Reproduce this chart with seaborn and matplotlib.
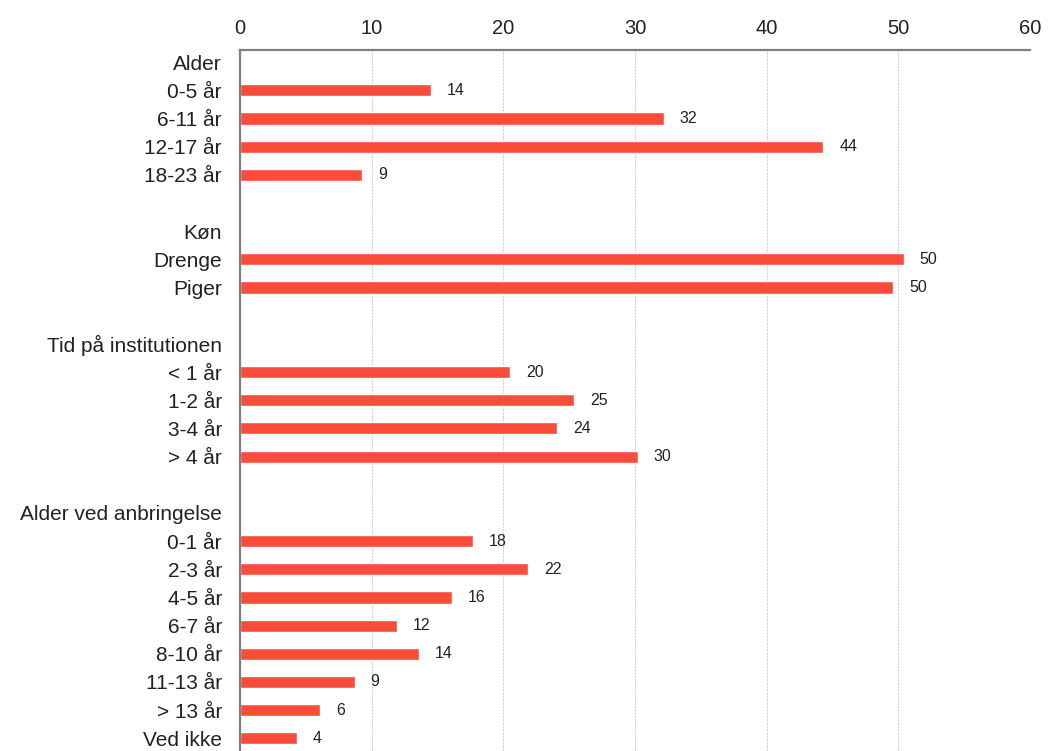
import matplotlib
matplotlib.use("Agg")
import matplotlib.pyplot as plt
import seaborn as sns
import pandas as pd

sns.set_style("white")
plt.rcParams['font.family'] = ['Liberation Sans', 'DejaVu Sans']

# Group headings and the categories in each group (percent)
headers = ["Alder", "Køn", "Tid på institutionen", "Alder ved anbringelse"]

alder = ["0-5 år", "6-11 år", "12-17 år", "18-23 år"]
alder_vals = [14.5, 32.2, 44.3, 9.3]

koen = ["Drenge", "Piger"]
koen_vals = [50.4, 49.6]

tid = ["< 1 år", "1-2 år", "3-4 år", "> 4 år"]
tid_vals = [20.5, 25.4, 24.1, 30.2]

anbringelse = ["0-1 år", "2-3 år", "4-5 år", "6-7 år", "8-10 år",
               "11-13 år", "> 13 år", "Ved ikke"]
anbringelse_vals = [17.7, 21.9, 16.1, 11.9, 13.6, 8.7, 6.1, 4.3]

xticks = [0, 10, 20, 30, 40, 50, 60]

groups = [(alder, alder_vals), (koen, koen_vals), (tid, tid_vals),
          (anbringelse, anbringelse_vals)]

# Row order: heading, its categories, then a blank spacer row
order, labels, values = [], [], []
for i, (head, (cats, vals)) in enumerate(zip(headers, groups)):
    order.append(head)
    order.extend(cats)
    labels.extend(cats)
    values.extend(vals)
    if i < len(groups) - 1:
        order.append(" " * (i + 1))

df = pd.DataFrame({"label": labels, "value": values})

fig = plt.figure(figsize=(10.48, 7.51), dpi=100)
ax = fig.add_axes([240 / 1048, 0.0, (1030 - 240) / 1048, (751 - 50) / 751])

bar_color = "#F94C3B"
sns.barplot(data=df, x="value", y="label", order=order, orient="h",
            color=bar_color, width=0.43, saturation=1, ax=ax)

for cont in ax.containers:
    ax.bar_label(cont, fmt="{:.0f}", padding=11.5, fontsize=11.5, color="#222222")

ax.set_xlim(0, 60)
ax.set_xticks(xticks)
ax.set_ylim(24.45, -0.43)
ax.xaxis.tick_top()
ax.set_xlabel("")
ax.set_ylabel("")
ax.tick_params(axis="x", length=0, pad=9, labelsize=14.5, labelcolor="#222222")
ax.tick_params(axis="y", length=0, pad=13, labelsize=15, labelcolor="#222222")

ax.grid(axis="x", color="#d0d0d0", linestyle=(0, (2, 1)), linewidth=0.8)
ax.grid(axis="y", visible=False)
ax.set_axisbelow(True)

for side in ("right", "bottom"):
    ax.spines[side].set_visible(False)
for side in ("top", "left"):
    ax.spines[side].set_visible(True)
    ax.spines[side].set_color("#808080")
    ax.spines[side].set_linewidth(1.6)

fig.savefig("out.png", dpi=100)
